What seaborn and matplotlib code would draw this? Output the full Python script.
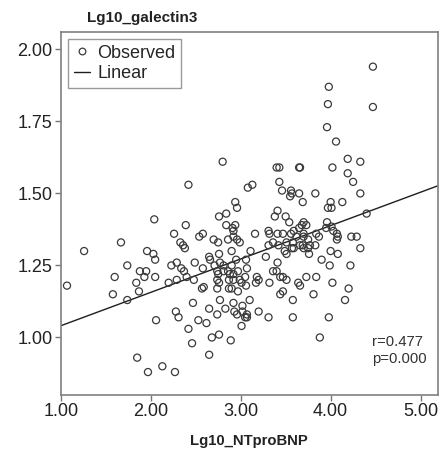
import numpy as np
import pandas as pd
import matplotlib
matplotlib.use("Agg")
import matplotlib.pyplot as plt
import seaborn as sns
from matplotlib.lines import Line2D

# values
lg_ntprobnp = [
    1.07, 1.26, 1.58, 1.60, 1.67, 1.74, 1.74, 1.84, 1.85, 1.87, 1.88, 1.93, 1.95, 1.96, 1.97,
    2.03, 2.04, 2.05, 2.05, 2.06, 2.13, 2.20, 2.26, 2.23, 2.29, 2.29, 2.28, 2.31, 2.27, 2.33,
    2.36, 2.38, 2.34, 2.37, 2.40, 2.39, 2.42, 2.42, 2.46, 2.47, 2.48, 2.49, 2.54, 2.58, 2.58,
    2.57, 2.59, 2.53, 2.62, 2.65, 2.66, 2.65, 2.65, 2.68, 2.70, 2.71, 2.74, 2.75, 2.74, 2.76,
    2.74, 2.75, 2.76, 2.76, 2.74, 2.76, 2.77, 2.77, 2.80, 2.81, 2.90, 2.81, 2.86, 2.88, 2.83,
    2.84, 2.84, 2.86, 2.87, 2.87, 2.89, 2.90, 2.90, 2.91, 2.92, 2.92, 2.92, 2.92, 2.92, 2.93,
    2.94, 2.96, 2.94, 2.95, 2.96, 2.96, 2.97, 2.99, 2.97, 2.99, 3.01, 3.02, 3.02, 3.01, 3.07,
    3.05, 3.07, 3.06, 3.07, 3.05, 3.06, 3.08, 3.13, 3.11, 3.10, 3.16, 3.18, 3.20, 3.17, 3.20,
    3.28, 3.31, 3.32, 3.31, 3.32, 3.31, 3.36, 3.36, 3.40, 3.38, 3.40, 3.43, 3.41, 3.41, 3.43,
    3.42, 3.41, 3.44, 3.47, 3.51, 3.44, 3.47, 3.46, 3.47, 3.49, 3.51, 3.51, 3.50, 3.54, 3.56,
    3.57, 3.55, 3.56, 3.57, 3.58, 3.58, 3.58, 3.59, 3.59, 3.62, 3.65, 3.64, 3.66, 3.65, 3.66,
    3.65, 3.66, 3.69, 3.70, 3.68, 3.69, 3.70, 3.70, 3.73, 3.75, 3.70, 3.75, 3.77, 3.76, 3.73,
    3.84, 3.81, 3.83, 3.83, 3.84, 3.87, 3.90, 3.88, 3.96, 3.97, 3.98, 3.96, 3.95, 4.01, 3.97,
    4.00, 4.01, 3.98, 3.99, 4.00, 4.02, 4.02, 4.03, 4.06, 4.07, 4.07, 4.08, 4.08, 4.13, 4.16,
    4.19, 4.19, 4.20, 4.22, 4.23, 4.29, 4.25, 4.33, 4.33, 4.33, 4.40, 4.47, 4.47,
]
lg_galectin3 = [
    1.18, 1.30, 1.15, 1.21, 1.33, 1.25, 1.13, 1.19, 0.93, 1.16, 1.23, 1.21, 1.23, 1.30, 0.88,
    1.29, 1.41, 1.27, 1.21, 1.06, 0.90, 1.19, 1.36, 1.25, 1.26, 1.20, 1.09, 1.07, 0.88, 1.33,
    1.32, 1.31, 1.24, 1.23, 1.21, 1.39, 1.53, 1.03, 0.98, 1.12, 1.20, 1.26, 1.35, 1.36, 1.24,
    1.17, 1.175, 1.06, 1.05, 1.28, 1.27, 1.10, 0.94, 1.00, 1.34, 1.25, 1.23, 1.22, 1.20, 1.19,
    1.17, 1.33, 1.42, 1.29, 1.08, 1.01, 1.13, 1.26, 1.61, 1.25, 1.25, 1.23, 1.23, 1.22, 1.10,
    1.43, 1.39, 1.34, 1.20, 1.17, 0.99, 1.30, 1.17, 1.38, 1.37, 1.35, 1.22, 1.20, 1.12, 1.09,
    1.47, 1.45, 1.39, 1.27, 1.34, 1.08, 1.16, 1.20, 1.23, 1.33, 1.19, 1.11, 1.09, 1.04, 1.08,
    1.07, 1.07, 1.27, 1.24, 1.21, 1.18, 1.52, 1.53, 1.30, 1.13, 1.36, 1.21, 1.20, 1.19, 1.09,
    1.28, 1.37, 1.36, 1.32, 1.19, 1.07, 1.33, 1.23, 1.23, 1.42, 1.59, 1.59, 1.44, 1.26, 1.54,
    1.32, 1.36, 1.21, 1.21, 1.20, 1.15, 1.16, 1.51, 1.36, 1.30, 1.29, 1.33, 1.42, 1.40, 1.51,
    1.50, 1.49, 1.36, 1.31, 1.33, 1.13, 1.07, 1.31, 1.37, 1.35, 1.38, 1.19, 1.18, 1.59, 1.59,
    1.50, 1.32, 1.47, 1.40, 1.39, 1.32, 1.35, 1.36, 1.39, 1.34, 1.31, 1.31, 1.32, 1.29, 1.21,
    1.21, 1.15, 1.50, 1.32, 1.36, 1.35, 1.27, 1.00, 1.73, 1.81, 1.87, 1.40, 1.38, 1.385, 1.45,
    1.47, 1.45, 1.07, 1.25, 1.30, 1.19, 1.59, 1.37, 1.68, 1.36, 1.34, 1.35, 1.29, 1.47, 1.13,
    1.62, 1.57, 1.17, 1.25, 1.35, 1.35, 1.54, 1.31, 1.61, 1.50, 1.43, 1.94, 1.80,
]
x_ticks = [1.0, 2.0, 3.0, 4.0, 5.0]
y_ticks = [1.00, 1.25, 1.50, 1.75, 2.00]
stats_label = "r=0.477\np=0.000"

df = pd.DataFrame({"Lg10_NTproBNP": lg_ntprobnp, "Lg10_galectin3": lg_galectin3})

sns.set_style("white")
plt.rcParams["font.family"] = ["Liberation Sans", "DejaVu Sans"]

fig = plt.figure(figsize=(4.43, 4.5), dpi=100)
ax = fig.add_axes([0.137, 0.122, 0.851, 0.808])
ax.set_xlim(1.0, 5.19)
ax.set_ylim(0.80, 2.062)

point_col = "#3a3a3a"
sns.scatterplot(data=df, x="Lg10_NTproBNP", y="Lg10_galectin3", marker="o", s=26,
                facecolor="none", edgecolor=point_col, linewidth=0.9, ax=ax, zorder=3)
sns.regplot(data=df, x="Lg10_NTproBNP", y="Lg10_galectin3", scatter=False, ci=None,
            truncate=False, line_kws={"color": "#1e1e1e", "lw": 1.0}, ax=ax)
ax.set_xlim(1.0, 5.19)
ax.set_ylim(0.80, 2.062)

ax.set_xticks(x_ticks)
ax.set_xticklabels([f"{v:.2f}" for v in x_ticks])
ax.set_yticks(y_ticks)
ax.set_yticklabels([f"{v:.2f}" for v in y_ticks])
ax.tick_params(axis="both", direction="out", length=4, width=1.0, color="#777777",
               labelsize=13, labelcolor="#222222", pad=2, bottom=True, left=True)
for sp in ax.spines.values():
    sp.set_color("#808080")
    sp.set_linewidth(1.2)

ax.set_xlabel("Lg10_NTproBNP", fontsize=10.7, fontweight="bold", color="#222222", labelpad=10)
ax.set_ylabel("")
fig.text(87 / 443, 1 - 18 / 450, "Lg10_galectin3", fontsize=11, fontweight="bold",
         color="#222222", ha="left", va="center")

ax.text(0.825, 0.122, stats_label, transform=ax.transAxes, fontsize=10.7, color="#333333",
        ha="left", va="center", linespacing=1.28)

handles = [
    Line2D([], [], marker="o", ls="none", mfc="none", mec=point_col, mew=0.9, ms=4.8),
    Line2D([], [], color="#1e1e1e", lw=1.0),
]
leg = ax.legend(handles, ["Observed", "Linear"], loc="upper left", bbox_to_anchor=(0.02, 0.979),
                borderaxespad=0, frameon=True, fancybox=False, edgecolor="#808080",
                fontsize=13, handlelength=0.9, handletextpad=0.4, borderpad=0.3,
                labelspacing=0.2)
leg.get_frame().set_linewidth(1.0)

fig.savefig("out.png", dpi=100, facecolor="white")
